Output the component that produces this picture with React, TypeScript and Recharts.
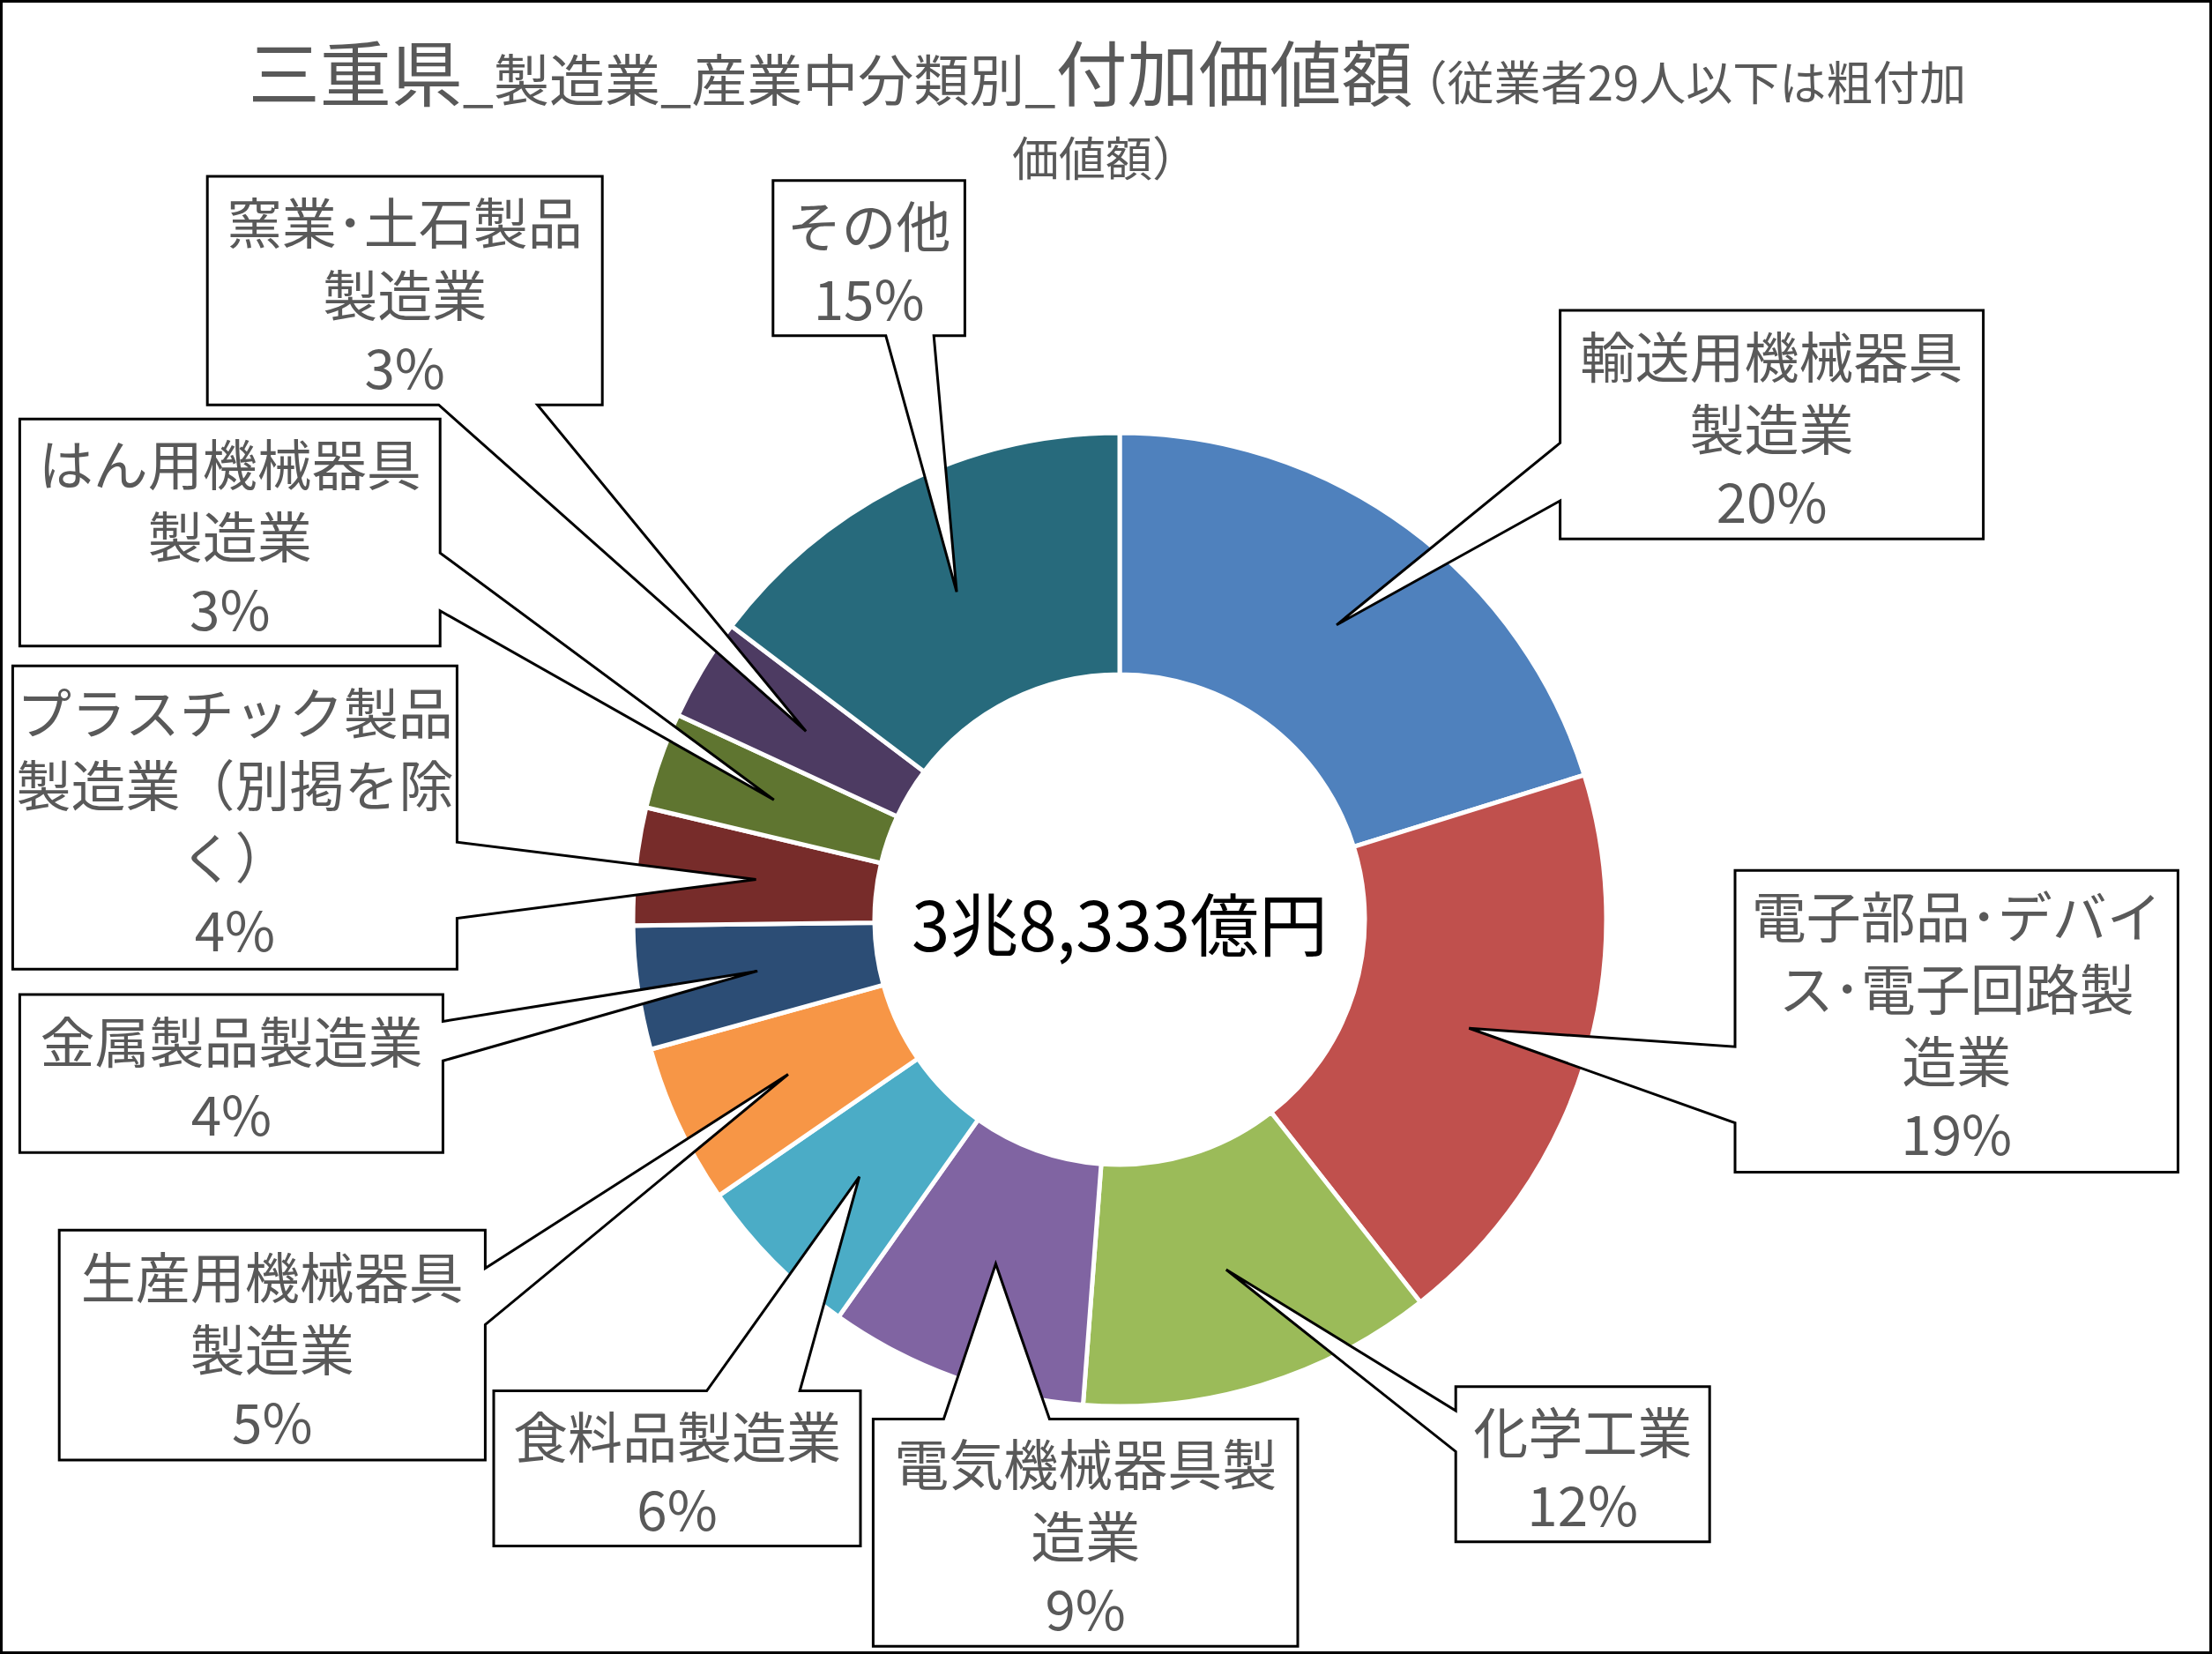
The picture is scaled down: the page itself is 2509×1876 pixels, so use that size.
import { PieChart, Pie, Cell } from 'recharts'

// layout below was measured on a 1568px wide copy of the sheet, scaled up by S
const S = 1.6
const W = 2509
const H = 1876
const FONT = '"Noto Sans CJK JP", "Noto Sans", sans-serif'
const GREY = '#595959'

const categories = [
  '輸送用機械器具製造業',
  '電子部品・デバイス・電子回路製造業',
  '化学工業',
  '電気機械器具製造業',
  '食料品製造業',
  '生産用機械器具製造業',
  '金属製品製造業',
  'プラスチック製品製造業（別掲を除く）',
  'はん用機械器具製造業',
  '窯業・土石製品製造業',
  'その他',
]

// 付加価値額 (億円), total 3兆8,333億円
const values = [7743, 7360, 4523, 3297, 2147, 2032, 1572, 1495, 1227, 1303, 5634]

const colors = [
  '#4F81BD', '#C0504D', '#9BBB59', '#8064A2', '#4BACC6', '#F79646',
  '#2C4D75', '#772C2A', '#5F7530', '#4D3B62', '#276A7C',
]

// how each category name wraps inside its callout
const labelLines = [
  ['輸送用機械器具', '製造業'],
  ['電子部品･デバイ', 'ス･電子回路製', '造業'],
  ['化学工業'],
  ['電気機械器具製', '造業'],
  ['食料品製造業'],
  ['生産用機械器具', '製造業'],
  ['金属製品製造業'],
  ['プラスチック製品', '製造業（別掲を除', 'く）'],
  ['はん用機械器具', '製造業'],
  ['窯業･土石製品', '製造業'],
  ['その他'],
]

const centerLabel = '3兆8,333億円'

// callout boxes: position, size, and which edge the wedge leaves from (a..b along that edge)
type Side = 'top' | 'right' | 'bottom' | 'left'
const boxes: { x: number; y: number; w: number; h: number; side: Side; a: number; b: number }[] = [
  { x: 1106, y: 220, w: 300, h: 162, side: 'left', a: 314, b: 355 },
  { x: 1230, y: 617, w: 314, h: 214, side: 'left', a: 742, b: 796 },
  { x: 1032, y: 983, w: 180, h: 110, side: 'left', a: 1000, b: 1029 },
  { x: 619, y: 1006, w: 301, h: 161, side: 'top', a: 669, b: 744 },
  { x: 350, y: 986, w: 260, h: 110, side: 'top', a: 501, b: 567 },
  { x: 42, y: 872, w: 302, h: 163, side: 'right', a: 899, b: 939 },
  { x: 14, y: 705, w: 300, h: 112, side: 'right', a: 724, b: 752 },
  { x: 9, y: 472, w: 315, h: 215, side: 'right', a: 597, b: 651 },
  { x: 14, y: 297, w: 298, h: 161, side: 'right', a: 392, b: 433 },
  { x: 147, y: 125, w: 280, h: 162, side: 'bottom', a: 311, b: 381 },
  { x: 548, y: 128, w: 136, h: 110, side: 'bottom', a: 628, b: 662 },
]

const data = categories.map((name, i) => ({ name, value: values[i] }))

function calloutPath(bx: (typeof boxes)[number], tx: number, ty: number) {
  const x = bx.x * S
  const y = bx.y * S
  const r = (bx.x + bx.w) * S
  const btm = (bx.y + bx.h) * S
  const a = bx.a * S
  const b = bx.b * S
  const tip = `L${tx},${ty}`
  let d = `M${x},${y}`
  if (bx.side === 'top') d += `L${a},${y}${tip}L${b},${y}`
  d += `L${r},${y}`
  if (bx.side === 'right') d += `L${r},${a}${tip}L${r},${b}`
  d += `L${r},${btm}`
  if (bx.side === 'bottom') d += `L${b},${btm}${tip}L${a},${btm}`
  d += `L${x},${btm}`
  if (bx.side === 'left') d += `L${x},${b}${tip}L${x},${a}`
  return d + 'Z'
}

function renderCallout(props: any) {
  const { cx, cy, midAngle, innerRadius, outerRadius, percent, index } = props
  const RAD = Math.PI / 180
  const rr = (innerRadius + outerRadius) / 2
  const tx = cx + rr * Math.cos(-midAngle * RAD)
  const ty = cy + rr * Math.sin(-midAngle * RAD)
  const bx = boxes[index]
  const lines = [...labelLines[index], `${Math.round(percent * 100)}%`]
  const midX = (bx.x + bx.w / 2) * S
  const midY = (bx.y + bx.h / 2) * S
  const lh = 82
  return (
    <g key={`callout-${index}`}>
      <path d={calloutPath(bx, tx, ty)} fill="#fff" stroke="#000" strokeWidth={3} strokeLinejoin="miter" />
      {lines.map((t, j) => (
        <text
          key={j}
          x={midX}
          y={midY + (j - (lines.length - 1) / 2) * lh + 2}
          textAnchor="middle"
          dominantBaseline="central"
          fontFamily={FONT}
          fontSize={62}
          fill={GREY}
        >
          {t}
        </text>
      ))}
    </g>
  )
}

export default function App() {
  return (
    <div style={{ position: 'absolute', left: 0, top: 0, width: W, height: H, background: '#fff' }}>
      <PieChart width={W} height={H} margin={{ top: 0, right: 0, bottom: 0, left: 0 }}>
        <rect x={1.5} y={1.5} width={W - 3} height={H - 3} fill="#fff" stroke="#000" strokeWidth={3} />
        <text x={1256} y={114} textAnchor="middle" fontFamily={FONT} fill={GREY}>
          <tspan fontSize={81}>三重県</tspan>
          <tspan fontSize={63}>_製造業_産業中分類別_</tspan>
          <tspan fontSize={81}>付加価値額</tspan>
          <tspan fontSize={53} dx={-14}>（従業者29人以下は粗付加</tspan>
        </text>
        <text x={1254} y={200} textAnchor="middle" fontFamily={FONT} fill={GREY} fontSize={53}>
          価値額）
        </text>
        <Pie
          data={data}
          dataKey="value"
          nameKey="name"
          cx={1270}
          cy={1043}
          innerRadius={278}
          outerRadius={552}
          startAngle={90}
          endAngle={-270}
          stroke="#fff"
          strokeWidth={5}
          label={renderCallout}
          labelLine={false}
          isAnimationActive={false}
        >
          {data.map((d, i) => (
            <Cell key={d.name} fill={colors[i]} />
          ))}
        </Pie>
        <text
          x={1270}
          y={1045}
          textAnchor="middle"
          dominantBaseline="central"
          fontFamily={FONT}
          fontSize={78}
          fill="#000"
        >
          {centerLabel}
        </text>
      </PieChart>
    </div>
  )
}
